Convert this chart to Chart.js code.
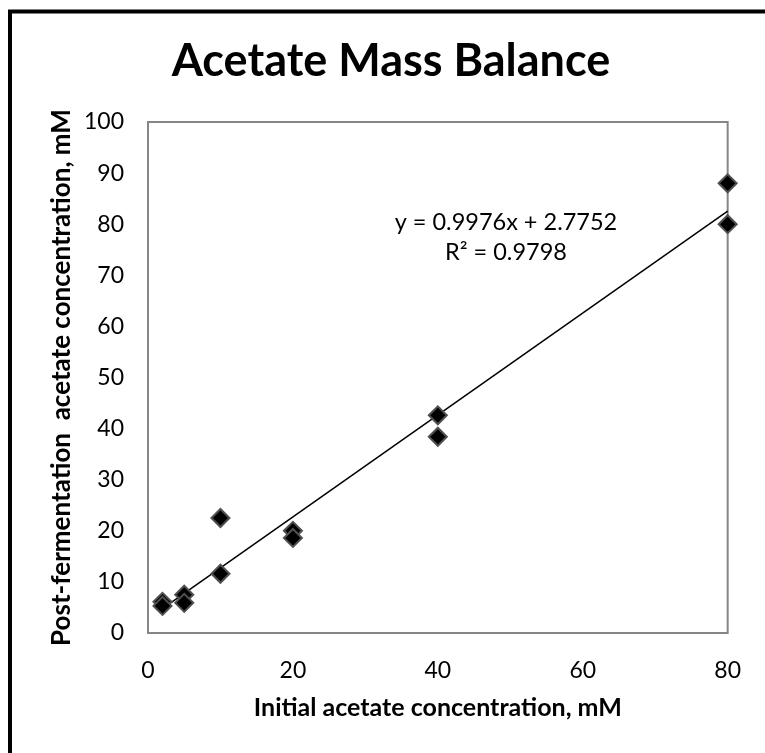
<!DOCTYPE html>
<html>
<head>
<meta charset="utf-8">
<title>Acetate Mass Balance</title>
<script src="https://cdn.jsdelivr.net/npm/chart.js@4.4.1/dist/chart.umd.min.js"></script>
<style>
  html, body { margin: 0; padding: 0; background: #fff; }
  canvas { display: block; }
</style>
</head>
<body>
<canvas id="massChart" width="765" height="753"></canvas>
<script>
// values
const initialConc = [2, 2, 5, 5, 10, 10, 20, 20, 40, 40, 80, 80];
const postConc = [6.1, 5.3, 7.5, 5.9, 22.5, 11.6, 20.0, 18.6, 42.6, 38.4, 88.0, 80.0];
const trendX = [2, 80];
const trendY = [4.77, 82.58];
const xTicks = [0, 20, 40, 60, 80];
const yTicks = [0, 10, 20, 30, 40, 50, 60, 70, 80, 90, 100];
const chartTitle = 'Acetate Mass Balance';
const trendLabel = ['y = 0.9976x + 2.7752', 'R² = 0.9798'];

const FONT = 'Lato, "Liberation Sans", sans-serif';

const points = initialConc.map((x, i) => ({ x: x, y: postConc[i] }));
const trend = trendX.map((x, i) => ({ x: x, y: trendY[i] }));

// outer frame, title and plot box
const framePlugin = {
  id: 'frame',
  beforeDraw(chart) {
    const ctx = chart.ctx;
    ctx.save();
    ctx.fillStyle = '#fff';
    ctx.fillRect(0, 0, chart.width, chart.height);
    ctx.strokeStyle = '#000';
    ctx.lineWidth = 4;
    ctx.strokeRect(10, 11.5, chart.width + 20, chart.height + 20);
    // title sits a bit left of the plot centre, like the original
    ctx.fillStyle = '#000';
    ctx.font = 'bold 45px ' + FONT;
    ctx.textAlign = 'center';
    ctx.textBaseline = 'middle';
    ctx.fillText(chartTitle, 391, 61);
    ctx.restore();
  },
  beforeDatasetsDraw(chart) {
    const a = chart.chartArea;
    const ctx = chart.ctx;
    ctx.save();
    ctx.strokeStyle = '#868686';
    ctx.lineWidth = 2;
    ctx.strokeRect(a.left, a.top, a.right - a.left, a.bottom - a.top);
    ctx.restore();
  }
};

// regression equation text
const equationPlugin = {
  id: 'equation',
  afterDatasetsDraw(chart) {
    const ctx = chart.ctx;
    const xs = chart.scales.x, ys = chart.scales.y;
    const cx = xs.getPixelForValue(49.4);
    ctx.save();
    ctx.fillStyle = '#000';
    ctx.font = '23.5px ' + FONT;
    ctx.textAlign = 'center';
    ctx.textBaseline = 'middle';
    ctx.fillText(trendLabel[0], cx, ys.getPixelForValue(80.4));
    ctx.fillText(trendLabel[1], cx, ys.getPixelForValue(74.4));
    ctx.restore();
  }
};

const ctx = document.getElementById('massChart').getContext('2d');

new Chart(ctx, {
  type: 'scatter',
  data: {
    datasets: [{
      label: 'Acetate',
      data: points,
      pointStyle: 'rectRot',
      pointRadius: 9,
      pointHoverRadius: 9,
      pointBackgroundColor: '#000',
      pointBorderColor: '#505050',
      pointBorderWidth: 2,
      clip: false,
      order: 1
    }, {
      label: 'Linear',
      data: trend,
      showLine: true,
      borderColor: '#000',
      borderWidth: 1.5,
      pointRadius: 0,
      clip: false,
      order: 2
    }]
  },
  options: {
    responsive: false,
    animation: false,
    layout: { padding: { left: 0, top: 122, right: 34, bottom: 0 } },
    plugins: {
      legend: { display: false },
      tooltip: { enabled: false },
      title: { display: false }
    },
    scales: {
      x: {
        type: 'linear',
        min: 0,
        max: 80,
        afterBuildTicks(scale) { scale.ticks = xTicks.map(v => ({ value: v })); },
        afterFit(scale) { scale.height = 120; },
        grid: { display: false, drawTicks: false, tickLength: 0 },
        border: { display: false },
        ticks: { color: '#000', padding: 24, maxRotation: 0, font: { family: FONT, size: 23 } },
        title: {
          display: true,
          text: 'Initial acetate concentration, mM',
          color: '#000',
          font: { family: FONT, size: 25, weight: 'bold', lineHeight: 1.2 },
          padding: { top: 0, bottom: 30 }
        }
      },
      y: {
        type: 'linear',
        min: 0,
        max: 100,
        afterBuildTicks(scale) { scale.ticks = yTicks.map(v => ({ value: v })); },
        afterFit(scale) { scale.width = 148; },
        grid: { display: false, drawTicks: false, tickLength: 0 },
        border: { display: false },
        ticks: { color: '#000', padding: 24, font: { family: FONT, size: 23 } },
        title: {
          display: true,
          text: 'Post-fermentation  acetate concentration, mM',
          color: '#000',
          font: { family: FONT, size: 26, weight: 'bold', lineHeight: 1.2 },
          padding: { top: 46, bottom: 0 }
        }
      }
    }
  },
  plugins: [framePlugin, equationPlugin]
});
</script>
</body>
</html>
